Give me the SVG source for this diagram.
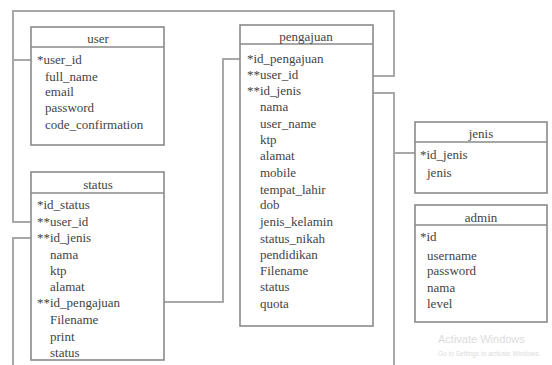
<svg xmlns="http://www.w3.org/2000/svg" width="552" height="365" viewBox="0 0 552 365">
<style>
.box{fill:#fff;stroke:#8a8a8a;stroke-width:1.6}
.sep{stroke:#8a8a8a;stroke-width:1.6}
.t{font-family:"Liberation Serif","Times New Roman",serif;font-size:13px;fill:#444}
.h{text-anchor:middle}
.c{fill:none;stroke:#a8a8a8;stroke-width:2}
.wm{font-family:"Liberation Sans",Arial,sans-serif;fill:#dcdcdc}
</style>
<rect width="552" height="365" fill="#fff"/>
<g id="connectors">
<path class="c" d="M31,60 H13 V11 H394 V76 H373"/>
<path class="c" d="M13,60 V222 H31"/>
<path class="c" d="M373,93 H394 V153 H415"/>
<path class="c" d="M31,238 H13 V372 H394 V153"/>
<path class="c" d="M164,302 H223 V59 H240"/>
</g>
<g id="user">
<rect class="box" x="31" y="27" width="133" height="118"/>
<line class="sep" x1="31" y1="47" x2="164" y2="47"/>
<text class="t h" x="98" y="43">user</text>
<text class="t" x="37" y="64">*user_id</text>
<text class="t" x="45" y="81">full_name</text>
<text class="t" x="45" y="96">email</text>
<text class="t" x="45" y="112">password</text>
<text class="t" x="45" y="129">code_confirmation</text>
</g>
<g id="status">
<rect class="box" x="31" y="172" width="133" height="188"/>
<line class="sep" x1="31" y1="193" x2="164" y2="193"/>
<text class="t h" x="98" y="189">status</text>
<text class="t" x="37" y="209">*id_status</text>
<text class="t" x="37" y="226">**user_id</text>
<text class="t" x="37" y="242">**id_jenis</text>
<text class="t" x="50" y="259">nama</text>
<text class="t" x="50" y="275">ktp</text>
<text class="t" x="50" y="291">alamat</text>
<text class="t" x="37" y="307">**id_pengajuan</text>
<text class="t" x="50" y="324">Filename</text>
<text class="t" x="50" y="341">print</text>
<text class="t" x="50" y="357">status</text>
</g>
<g id="pengajuan">
<rect class="box" x="240" y="25" width="133" height="301"/>
<line class="sep" x1="240" y1="44" x2="373" y2="44"/>
<text class="t h" x="306" y="41">pengajuan</text>
<text class="t" x="247" y="63">*id_pengajuan</text>
<text class="t" x="247" y="79">**user_id</text>
<text class="t" x="247" y="95">**id_jenis</text>
<text class="t" x="260" y="111">nama</text>
<text class="t" x="260" y="128">user_name</text>
<text class="t" x="260" y="144">ktp</text>
<text class="t" x="260" y="160">alamat</text>
<text class="t" x="260" y="177">mobile</text>
<text class="t" x="260" y="194">tempat_lahir</text>
<text class="t" x="260" y="209">dob</text>
<text class="t" x="260" y="226">jenis_kelamin</text>
<text class="t" x="260" y="243">status_nikah</text>
<text class="t" x="260" y="259">pendidikan</text>
<text class="t" x="260" y="275">Filename</text>
<text class="t" x="260" y="291">status</text>
<text class="t" x="260" y="308">quota</text>
</g>
<g id="jenis">
<rect class="box" x="415" y="122" width="132" height="71"/>
<line class="sep" x1="415" y1="142" x2="547" y2="142"/>
<text class="t h" x="481" y="138">jenis</text>
<text class="t" x="420" y="159">*id_jenis</text>
<text class="t" x="427" y="177">jenis</text>
</g>
<g id="admin">
<rect class="box" x="415" y="205" width="132" height="117"/>
<line class="sep" x1="415" y1="225" x2="547" y2="225"/>
<text class="t h" x="481" y="222">admin</text>
<text class="t" x="420" y="241">*id</text>
<text class="t" x="427" y="260">username</text>
<text class="t" x="427" y="275">password</text>
<text class="t" x="427" y="292">nama</text>
<text class="t" x="427" y="308">level</text>
</g>
<text class="wm" x="438" y="343" font-size="11">Activate Windows</text>
<text class="wm" x="438" y="356" font-size="6.5">Go to Settings to activate Windows.</text>
</svg>
